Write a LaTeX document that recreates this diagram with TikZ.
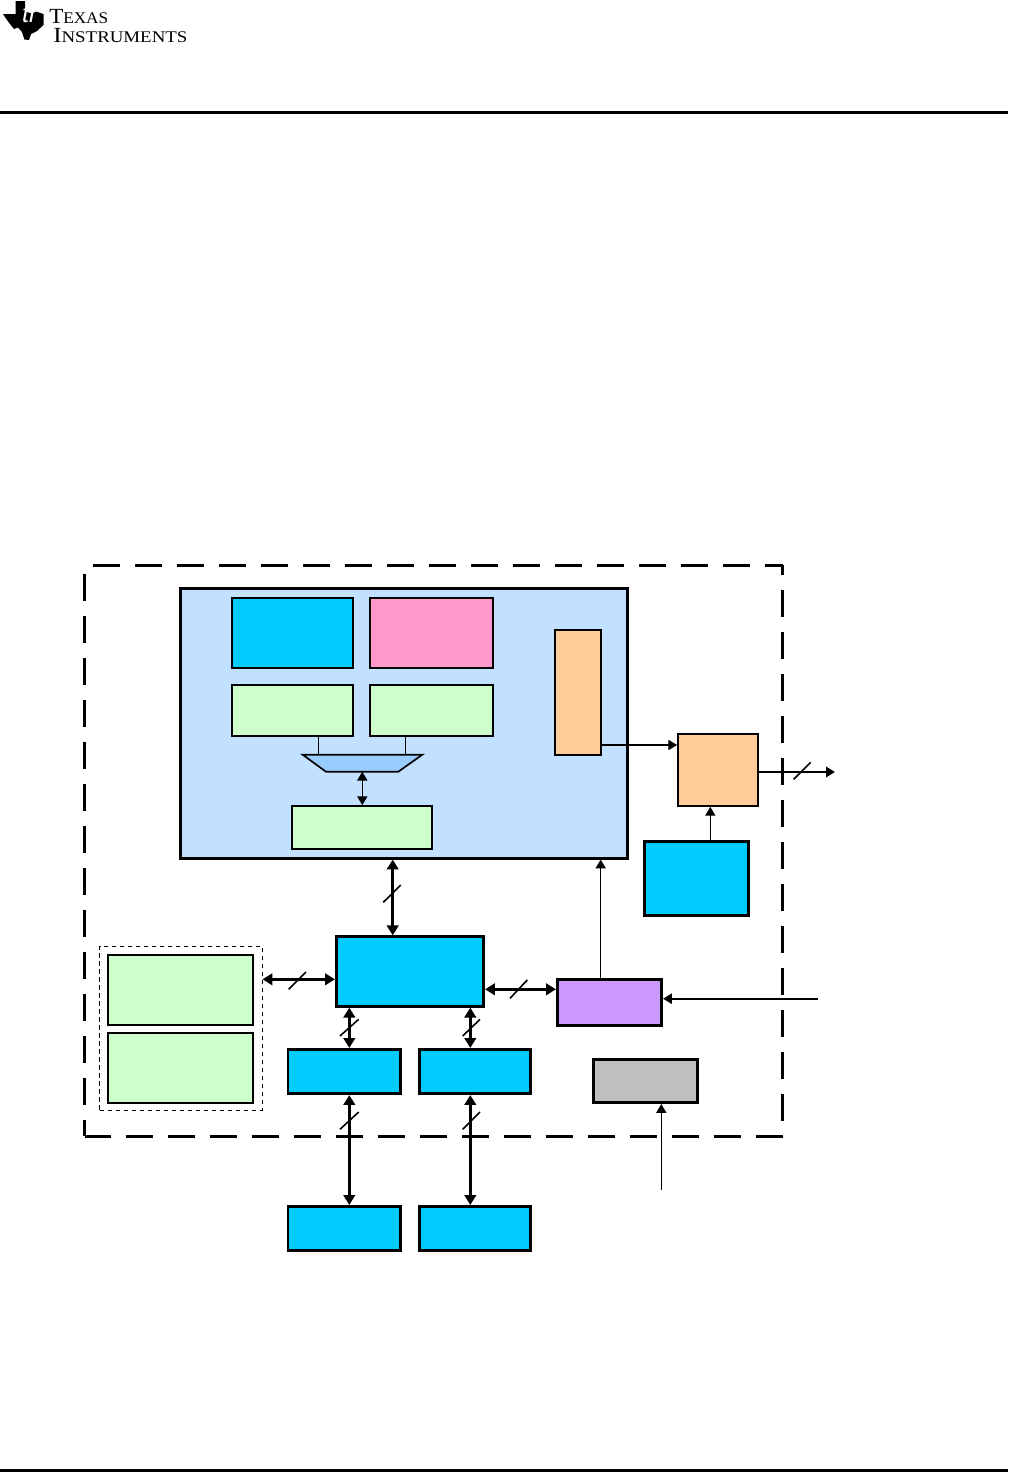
\documentclass[tikz,border=0pt]{standalone}
\usepackage{fontspec}
\setmainfont{Liberation Serif}
\newfontfamily\tisans{Liberation Sans}
\usetikzlibrary{arrows.meta}
\definecolor{cblue}{HTML}{00CCFF}
\definecolor{cpink}{HTML}{FF99CC}
\definecolor{cgreen}{HTML}{CCFFCC}
\definecolor{corange}{HTML}{FFCC99}
\definecolor{cmain}{HTML}{C2E0FF}
\definecolor{cpurple}{HTML}{CC99FF}
\definecolor{cgrey}{HTML}{BFBFBF}
\definecolor{ctrap}{HTML}{99CCFF}
\tikzset{
  thickbox/.style={draw=black,line width=2.7*0.75pt,inner sep=0pt},
  thinbox/.style={draw=black,line width=1.7*0.75pt,inner sep=0pt},
  frameline/.style={line width=2.7*0.75pt,draw=black},
  ruleline/.style={line width=3*0.75pt,draw=black},
  busline/.style={line width=2.7*0.75pt,{Triangle[length=7.4pt,width=8.6pt]}-{Triangle[length=7.4pt,width=8.6pt]}},
  busthin/.style={line width=1.9*0.75pt,-{Triangle[length=6.6pt,width=7.6pt]}},
  sigline/.style={line width=1.1*0.75pt,-{Triangle[length=6.6pt,width=7.6pt]}},
  slashmark/.style={line width=1.6*0.75pt,draw=black},
  logotext/.style={inner sep=0pt,anchor=base west,text=black}
}
\newcommand{\mybox}[6]{%
  \pgfmathsetmacro{\mbw}{(#5-#3)*0.75}%
  \pgfmathsetmacro{\mbh}{(#6-#4)*0.75}%
  \node[#1,minimum width=\mbw pt,minimum height=\mbh pt] (#2) at ({(#3+#5)/2},{(#4+#6)/2}) {};%
}
\begin{document}
\begin{tikzpicture}[x=0.75pt,y=-0.75pt]
\useasboundingbox (0,0) rectangle (1008,1472);
% header and footer rules
\coordinate (rl1) at (0,112.3); \coordinate (rr1) at (1008,112.3);
\coordinate (rl2) at (0,1470.3); \coordinate (rr2) at (1008,1470.3);
\draw[ruleline] (rl1) -- (rr1);
\draw[ruleline] (rl2) -- (rr2);
% logo
\fill[black] (15.5,1) -- (25,1) -- (25,11.5) -- (32,13.5) -- (36,11.5) -- (43.5,14) -- (43.5,25) -- (37,31) -- (31,34) -- (29,40) -- (24.5,39.5) -- (22,32) -- (18,27.5) -- (14,29) -- (10,24) -- (7,20) -- (3,14) -- (15.5,14) -- cycle;
\node[inner sep=0pt,text=white,font=\tisans\itshape\fontsize{19pt}{19pt}\selectfont] (logoti) at (28.5,13.5) {ti};
\node[logotext] (logo1) at (49,23.3) {\scalebox{1.06}[1]{\fontsize{16.2pt}{16.2pt}\selectfont T\fontsize{12.2pt}{12.2pt}\selectfont EXAS}};
\node[logotext] (logo2) at (53,42.5) {\scalebox{1.16}[1]{\fontsize{16.2pt}{16.2pt}\selectfont I\fontsize{12.2pt}{12.2pt}\selectfont NSTRUMENTS}};
% outer dashed frame
\coordinate (ftl) at (84.7,565.3);
\coordinate (ftr) at (782.7,565.3);
\coordinate (fbr) at (782.7,1136.3);
\coordinate (fbl) at (84.7,1136.3);
\draw[frameline,dash pattern=on 20.25pt off 11.25pt,dash phase=25.2pt] (ftl) -- (ftr);
\draw[frameline,dash pattern=on 20.25pt off 11.25pt,dash phase=12.75pt] (ftr) -- (fbr);
\draw[frameline,dash pattern=on 20.25pt off 11.25pt] (fbr) -- (fbl);
\draw[frameline,dash pattern=on 20.25pt off 11.25pt,dash phase=25pt] (ftl) -- (fbl);
% main block and contents
\mybox{thickbox,fill=cmain}{main}{180.5}{588.3}{627.3}{858.2}
\mybox{thinbox,fill=cblue}{topa}{231.7}{598}{353.3}{668}
\mybox{thinbox,fill=cpink}{topb}{370}{598}{493.3}{668}
\mybox{thinbox,fill=cgreen}{mida}{231.7}{685}{353.3}{735.7}
\mybox{thinbox,fill=cgreen}{midb}{370}{685}{493.3}{735.7}
\mybox{thinbox,fill=corange}{tall}{555}{630}{601}{754.7}
\mybox{thinbox,fill=cgreen}{lowg}{292}{806}{432}{848.7}
% trapezoid
\coordinate (ta) at (302.7,754.7);
\coordinate (tb) at (422.3,754.7);
\coordinate (tc) at (398.3,771.7);
\coordinate (td) at (326,771.7);
\coordinate (cola) at (318.3,0);
\coordinate (colb) at (405.3,0);
\coordinate (colc) at (362.3,0);
\draw[line width=1.1*0.75pt] (cola |- mida.south) -- (cola |- ta);
\draw[line width=1.1*0.75pt] (colb |- midb.south) -- (colb |- tb);
\draw[line width=1.7*0.75pt,fill=ctrap] (ta) -- (tb) -- (tc) -- (td) -- cycle;
\draw[line width=1.2*0.75pt,{Triangle[length=6.6pt,width=7.6pt]}-{Triangle[length=6.6pt,width=7.6pt]}] (colc |- td) -- (colc |- lowg.north);
% lower blocks
\mybox{thickbox,fill=cblue}{ctr}{336.3}{936.7}{483.7}{1006.3}
\mybox{thickbox,fill=cblue}{sa}{288}{1049.3}{400.7}{1093.7}
\mybox{thickbox,fill=cblue}{sb}{419.3}{1049.3}{530.7}{1093.7}
\mybox{thickbox,fill=cblue}{la}{288}{1206.3}{400.7}{1250.3}
\mybox{thickbox,fill=cblue}{lb}{419.3}{1206.3}{530.7}{1250.3}
\mybox{thinbox,fill=corange}{oout}{678}{734}{758.3}{806}
\mybox{thickbox,fill=cblue}{clk}{644.7}{841.7}{748.3}{915.7}
\mybox{thickbox,fill=cpurple}{pur}{557.3}{979.3}{661.7}{1025.3}
\mybox{thickbox,fill=cgrey}{gry}{593.3}{1059.3}{697.7}{1102.7}
% dotted group
\mybox{draw=black,line width=1*0.75pt,dash pattern=on 3.4pt off 2.6pt,inner sep=0pt}{grp}{99.7}{946}{262}{1110}
\mybox{thinbox,fill=cgreen}{ga}{108.3}{955.3}{253.3}{1024.7}
\mybox{thinbox,fill=cgreen}{gb}{108.3}{1033}{253.3}{1103}
% connectors
\coordinate (xbus) at (392.7,0);
\coordinate (xa) at (349.3,0);
\coordinate (xb) at (470.3,0);
\coordinate (xp) at (600.7,0);
\coordinate (xo) at (710.3,0);
\coordinate (xg) at (661.3,0);
\coordinate (yl) at (0,979.3);
\coordinate (yr) at (0,989.3);
\coordinate (yt) at (0,745);
\coordinate (yo) at (0,772);
\coordinate (ye) at (0,998.7);
\coordinate (extout) at (835,772);
\coordinate (extin) at (818,998.7);
\coordinate (extg) at (661.3,1189.7);
\draw[busline] (xbus |- main.south) -- (xbus |- ctr.north);
\draw[busline] (grp.east |- yl) -- (ctr.west |- yl);
\draw[busline] (ctr.east |- yr) -- (pur.west |- yr);
\draw[busline] (xa |- ctr.south) -- (xa |- sa.north);
\draw[busline] (xb |- ctr.south) -- (xb |- sb.north);
\draw[busline] (xa |- sa.south) -- (xa |- la.north);
\draw[busline] (xb |- sb.south) -- (xb |- lb.north);
\draw[sigline] (tall.east |- yt) -- (oout.west |- yt);
\draw[busthin] (oout.east |- yo) -- (extout);
\draw[sigline] (xo |- clk.north) -- (xo |- oout.south);
\draw[sigline] (xp |- pur.north) -- (xp |- main.south);
\draw[busthin] (extin) -- (pur.east |- ye);
\draw[sigline] (extg) -- (xg |- gry.south);
% bus width slashes
\draw[slashmark] (383.3,902.3) -- (400.7,885);
\draw[slashmark] (288.7,989.3) -- (306,972);
\draw[slashmark] (510,998.3) -- (527.3,980);
\draw[slashmark] (340,1036) -- (358.7,1019.3);
\draw[slashmark] (462.7,1036) -- (480,1019.3);
\draw[slashmark] (340,1129.3) -- (358.7,1112);
\draw[slashmark] (462.7,1129.3) -- (480,1112);
\draw[slashmark] (793.7,779.3) -- (810.7,762.3);
\end{tikzpicture}
\end{document}
